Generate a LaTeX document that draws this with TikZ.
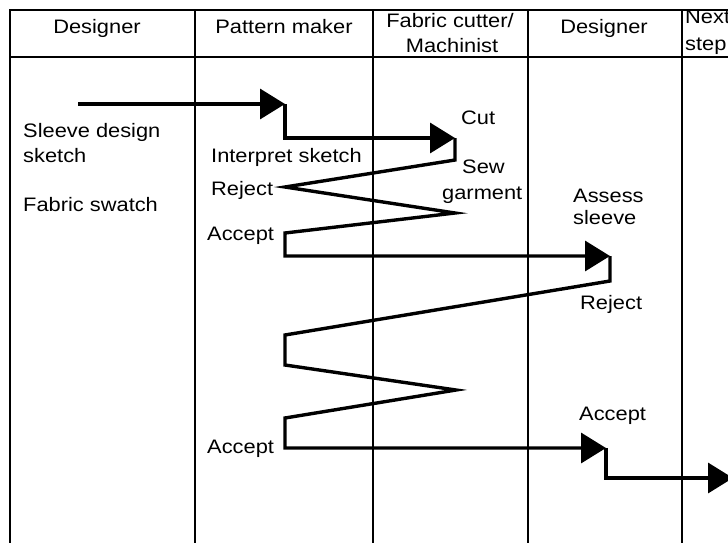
\documentclass[tikz,border=0pt]{standalone}
\usepackage{fontspec}
\setmainfont[FakeStretch=1.12]{Liberation Sans}
\usetikzlibrary{arrows.meta}
\begin{document}
\begin{tikzpicture}[x=1pt,y=-1pt,
  grid/.style={line width=1.8pt,black},
  flow/.style={line width=3.4pt,black,line join=miter},
  flowarrow/.style={flow,-{Triangle[length=25pt,width=30pt]}},
  lbl/.style={font=\fontsize{19.5}{24}\selectfont,inner sep=0pt,anchor=base west},
  hdr/.style={font=\fontsize{19.5}{24}\selectfont,inner sep=0pt,anchor=base}]
\useasboundingbox (0,0) rectangle (728,542);
\begin{scope}
\clip (0,0) rectangle (728,542);
% table
\draw[grid] (760,10) -- (10,10) -- (10,560);
\draw[grid] (10,57) -- (760,57);
\foreach \xx in {195,373,528,682} \draw[grid] (\xx,10) -- (\xx,560);
% headers
\node[hdr] (h1) at (97,33) {Designer};
\node[hdr] (h2) at (284,33) {Pattern maker};
\node[hdr] (h3a) at (450,27) {Fabric cutter/};
\node[hdr] (h3b) at (452,52) {Machinist};
\node[hdr] (h4) at (604,33) {Designer};
\node[lbl] (h5a) at (685,23) {Next};
\node[lbl] (h5b) at (685,50) {step};
% labels
\node[lbl] (t1) at (23,137) {Sleeve design};
\node[lbl] (t2) at (23,162) {sketch};
\node[lbl] (t3) at (23,211) {Fabric swatch};
\node[lbl] (p1) at (211,162) {Interpret sketch};
\node[lbl] (p2) at (211,195) {Reject};
\node[lbl] (p3) at (207,240) {Accept};
\node[lbl] (p4) at (207,453) {Accept};
\node[lbl] (f1) at (461,124) {Cut};
\node[lbl] (f2) at (462,173) {Sew};
\node[lbl] (f3) at (442,199) {garment};
\node[lbl] (d1) at (573,202) {Assess};
\node[lbl] (d2) at (573,224) {sleeve};
\node[lbl] (d3) at (580,309) {Reject};
\node[lbl] (d4) at (579,420) {Accept};
% flow points
\coordinate (a0) at (78,104);
\coordinate (a1) at (285,104);
\coordinate (b0) at (285,138);
\coordinate (b1) at (455,138);
\coordinate (c0) at (455,160);
\coordinate (c1) at (285,187);
\coordinate (c2) at (455,213);
\coordinate (c3) at (285,233);
\coordinate (c4) at (285,256);
\coordinate (c5) at (610,256);
\coordinate (e0) at (610,281);
\coordinate (e1) at (285,335);
\coordinate (e2) at (285,365);
\coordinate (e3) at (456,390);
\coordinate (e4) at (285,418);
\coordinate (e5) at (285,448);
\coordinate (e6) at (606,448);
\coordinate (g0) at (606,478);
\coordinate (g1) at (733,478);
\draw[flowarrow] (a0) -- (a1);
\draw[flowarrow] (a1) -- (b0) -- (b1);
\draw[flowarrow] (b1) -- (c0) -- (c1) -- (c2) -- (c3) -- (c4) -- (c5);
\draw[flowarrow] (c5) -- (e0) -- (e1) -- (e2) -- (e3) -- (e4) -- (e5) -- (e6);
\draw[flowarrow] (e6) -- (g0) -- (g1);
\end{scope}
\end{tikzpicture}
\end{document}
